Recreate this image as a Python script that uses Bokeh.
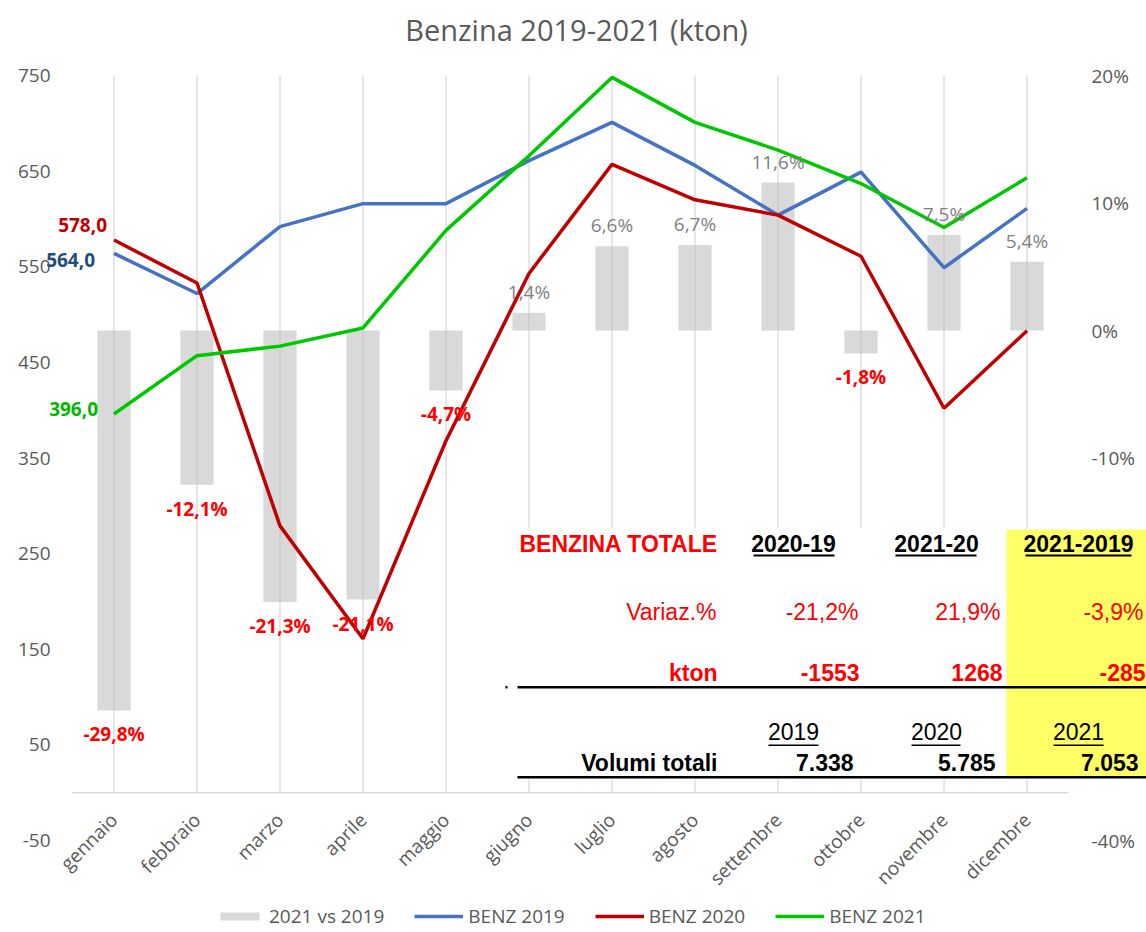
import math
from bokeh.plotting import figure
from bokeh.models import Range1d, Legend, LegendItem, Label, BoxAnnotation
from bokeh.core.properties import value
from bokeh.embed import file_html
from bokeh.resources import INLINE

# ---------------- data ----------------
months = ["gennaio", "febbraio", "marzo", "aprile", "maggio", "giugno",
          "luglio", "agosto", "settembre", "ottobre", "novembre", "dicembre"]
benz_2019 = [564.0, 522, 592, 616, 616, 661, 701, 656, 604, 649, 549, 611]
benz_2020 = [578.0, 533, 279, 161, 368, 543, 657, 620, 604, 561, 402, 483]
benz_2021 = [396.0, 457, 467, 486, 588, 666, 748, 701, 672, 637, 591, 643]
var_2021_vs_2019 = [-29.8, -12.1, -21.3, -21.1, -4.7, 1.4, 6.6, 6.7, 11.6, -1.8, 7.5, 5.4]
left_ticks = [-50, 50, 150, 250, 350, 450, 550, 650, 750]
right_ticks = [-40, -30, -20, -10, 0, 10, 20]

tab_title = "BENZINA TOTALE"
tab_periods = ["2020-19", "2021-20", "2021-2019"]
tab_var_pct = ["-21,2%", "21,9%", "-3,9%"]
tab_var_kton = ["-1553", "1268", "-285"]
tab_years = ["2019", "2020", "2021"]
tab_volumes = ["7.338", "5.785", "7.053"]

# ---------------- layout helpers ----------------
W, H = 1146, 932
PX = 765 / 800.0            # px per kton
CAT_W = 996 / 12.0          # px per month (plot area 72..1068)

def pct_of(v):
    return 20 - (750 - v) * 0.075

def rx(xr):      # pixel x -> data x
    return (xr - 72) / CAT_W

def ry(yr):      # pixel y -> data y (kton)
    return 750 - (yr - 75) / PX

GRAY = "#595959"
FONT = "Open Sans"
xs = [i + 0.5 for i in range(12)]

p = figure(width=W, height=H, x_range=Range1d(rx(0), rx(W)), y_range=Range1d(ry(H), ry(0)),
           output_backend="svg", toolbar_location=None,
           x_axis_location=None, y_axis_location=None,
           min_border=0, outline_line_color=None, background_fill_color="white")
p.xgrid.visible = False
p.ygrid.visible = False
p.extra_y_ranges = {"pct": Range1d(pct_of(ry(H)), pct_of(ry(0)))}

# value-axis tick labels (left: kton, right: %)
p.text(x=rx(50), y=left_ticks, text=[str(t) for t in left_ticks], text_align="right",
       text_baseline="middle", text_font=value(FONT), text_font_size="19px",
       text_color=GRAY)
p.text(x=rx(1091), y=right_ticks, text=[f"{t}%" for t in right_ticks], y_range_name="pct",
       text_align="left", text_baseline="middle", text_font=value(FONT),
       text_font_size="19px", text_color=GRAY)

# gridlines + category axis line
p.segment(x0=xs, y0=0, x1=xs, y1=750, line_color="#D9D9D9", line_width=1.3)
p.segment(x0=0, y0=0, x1=12, y1=0, line_color="#D9D9D9", line_width=1.5)

bars = p.vbar(x=xs, top=var_2021_vs_2019, bottom=0, width=0.4, y_range_name="pct",
              fill_color="#BFBFBF", fill_alpha=0.6, line_color=None)
l19 = p.line(xs, benz_2019, line_color="#4472C4", line_width=3.5)
l20 = p.line(xs, benz_2020, line_color="#C00000", line_width=3.5)
l21 = p.line(xs, benz_2021, line_color="#00C800", line_width=3.5)

# percentage labels
neg_x = [x for x, v in zip(xs, var_2021_vs_2019) if v < 0]
neg_v = [v for v in var_2021_vs_2019 if v < 0]
pos_x = [x for x, v in zip(xs, var_2021_vs_2019) if v >= 0]
pos_v = [v for v in var_2021_vs_2019 if v >= 0]
fmt = lambda v: f"{v:.1f}".replace(".", ",") + "%"
p.text(x=neg_x, y=neg_v, text=[fmt(v) for v in neg_v], y_range_name="pct",
       text_align="center", text_baseline="middle", y_offset=24,
       text_font=value(FONT), text_font_style="bold", text_font_size="19px",
       text_color="#FF0000")
p.text(x=pos_x, y=pos_v, text=[fmt(v) for v in pos_v], y_range_name="pct",
       text_align="center", text_baseline="middle", y_offset=-21,
       text_font=value(FONT), text_font_size="19px", text_color="#7F7F7F")

# first-point value labels
vfmt = lambda v: f"{v:.1f}".replace(".", ",")
for series, col, dx, dy in ((benz_2020, "#C00000", -7, -15),
                            (benz_2019, "#1F4E79", -19, 7),
                            (benz_2021, "#00B800", -16, -5)):
    p.text(x=[xs[0]], y=[series[0]], text=[vfmt(series[0])], text_align="right",
           text_baseline="middle", x_offset=dx, y_offset=dy,
           text_font=value(FONT), text_font_style="bold", text_font_size="19px",
           text_color=col)

# category labels
p.text(x=xs, y=ry(816), text=months, angle=math.pi / 4, text_align="right",
       text_baseline="middle", x_offset=0, text_font=value(FONT),
       text_font_size="19px", text_color=GRAY)

# title
p.add_layout(Label(x=rx(576), y=ry(29), text="Benzina 2019-2021 (kton)",
                   text_align="center", text_baseline="middle", text_font=FONT,
                   text_font_size="29px", text_color=GRAY))

# legend
legend = Legend(items=[LegendItem(label="2021 vs 2019", renderers=[bars]),
                       LegendItem(label="BENZ 2019", renderers=[l19]),
                       LegendItem(label="BENZ 2020", renderers=[l20]),
                       LegendItem(label="BENZ 2021", renderers=[l21])],
                orientation="horizontal", location=(215, 3),
                glyph_width=49, glyph_height=10, label_standoff=5, spacing=30,
                padding=0, margin=0, border_line_color=None,
                background_fill_alpha=0, label_text_font=FONT,
                label_text_font_size="19px", label_text_color=GRAY)
p.add_layout(legend)

# ---------------- summary table ----------------
def box(x0, x1, y0, y1, color):
    p.add_layout(BoxAnnotation(left=rx(x0), right=rx(x1), top=ry(y0), bottom=ry(y1),
                               fill_color=color, fill_alpha=1, line_color=None,
                               line_alpha=0))

def lab(x, y, text, color="black", bold=False, align="center"):
    p.add_layout(Label(x=rx(x), y=ry(y), text=text, text_align=align,
                       text_baseline="middle", text_font="Liberation Sans",
                       text_font_size="23px",
                       text_font_style="bold" if bold else "normal",
                       text_color=color))

box(505, 1150, 527, 779, "white")
box(1006, 1150, 529, 776, "#FFFF66")

col_c = [793, 936, 1078]
col_r = [858, 1000, 1143]
hdr_span = [(753, 834), (895, 976), (1025, 1131)]
yr_span = [(768, 818), (911, 960), (1053, 1103)]

lab(519, 543, tab_title, "#FF0000", True, "left")
for c, t, (a, b) in zip(col_c, tab_periods, hdr_span):
    lab(c, 543, t, "black", True)
    box(a, b, 554, 556, "black")
lab(716, 611, "Variaz.%", "#FF0000", False, "right")
for r, t in zip(col_r, tab_var_pct):
    lab(r, 611, t, "#FF0000", False, "right")
lab(717, 672, "kton", "#FF0000", True, "right")
for r, t in zip([859, 1002, 1145], tab_var_kton):
    lab(r, 672, t, "#FF0000", True, "right")
box(517, 1150, 685.5, 688, "black")
box(505, 507, 685.5, 688, "black")
for c, t, (a, b) in zip(col_c, tab_years, yr_span):
    lab(c, 731, t, "black", False)
    box(a, b, 744, 745.5, "black")
lab(717, 762, "Volumi totali", "black", True, "right")
for r, t in zip([853, 995, 1138], tab_volumes):
    lab(r, 762, t, "black", True, "right")
box(517, 1150, 775.5, 778, "black")

open("out.html", "w").write(file_html(p, INLINE))
